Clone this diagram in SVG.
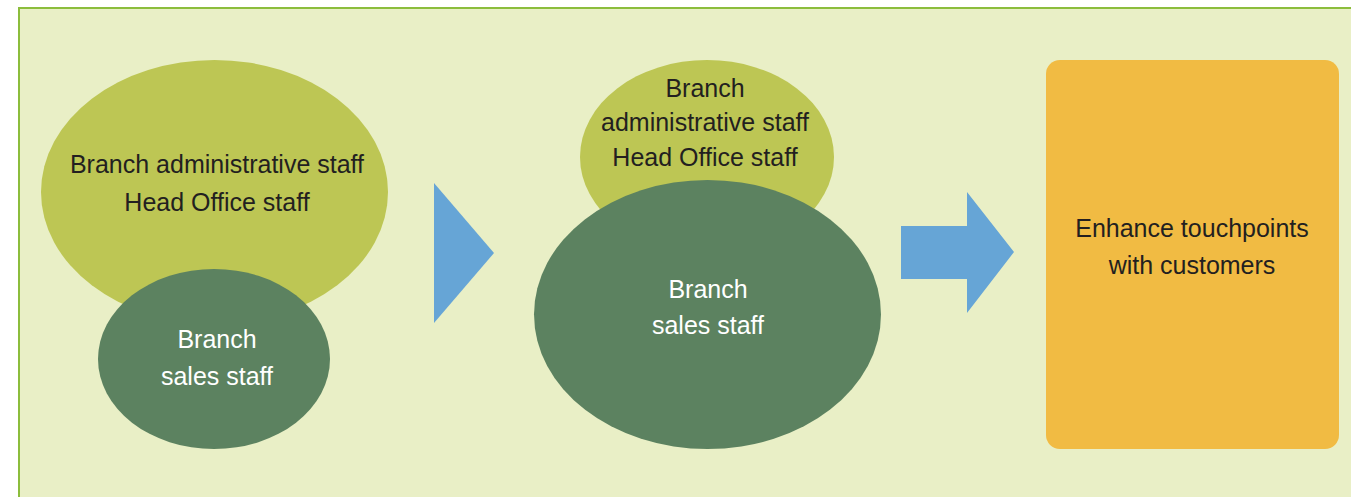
<svg xmlns="http://www.w3.org/2000/svg" width="1351" height="497" viewBox="0 0 1351 497">
  <style>
    .lbl { font-family: "Liberation Sans", Arial, sans-serif; font-size: 25px; text-anchor: middle; }
    .dark { fill: #231f20; }
    .light { fill: #ffffff; }
    .outer { fill: #bdc654; }
    .inner { fill: #5c8260; }
    .step { fill: #66a5d6; }
  </style>

  <!-- background panel -->
  <rect x="0" y="0" width="1351" height="497" fill="#ffffff"/>
  <rect x="19" y="8" width="1400" height="520" fill="#e9efc6" stroke="#8cbd3c" stroke-width="2"/>

  <!-- current state: separate staff groups -->
  <g id="before-support">
    <ellipse class="outer" cx="214.5" cy="192" rx="173.5" ry="132"/>
    <text class="lbl dark" x="217" y="173">Branch administrative staff</text>
    <text class="lbl dark" x="217" y="211">Head Office staff</text>
  </g>
  <g id="before-sales">
    <ellipse class="inner" cx="214" cy="359" rx="116" ry="90"/>
    <text class="lbl light" x="217" y="348">Branch</text>
    <text class="lbl light" x="217" y="385">sales staff</text>
  </g>

  <!-- future state: expanded sales staff -->
  <g id="after-support">
    <ellipse class="outer" cx="707" cy="157" rx="127" ry="97"/>
    <text class="lbl dark" x="705" y="97">Branch</text>
    <text class="lbl dark" x="705" y="131">administrative staff</text>
    <text class="lbl dark" x="705" y="166">Head Office staff</text>
  </g>
  <g id="after-sales">
    <ellipse class="inner" cx="707.5" cy="314.5" rx="173.5" ry="134.5"/>
    <text class="lbl light" x="708" y="298">Branch</text>
    <text class="lbl light" x="708" y="334">sales staff</text>
  </g>

  <!-- outcome -->
  <g id="outcome">
    <rect x="1046" y="60" width="293" height="389" rx="14" ry="14" fill="#f1bb43"/>
    <text class="lbl dark" x="1192" y="237">Enhance touchpoints</text>
    <text class="lbl dark" x="1192" y="274">with customers</text>
  </g>

  <!-- transition arrows -->
  <g id="connectors">
    <polygon class="step" points="434,183 494,253 434,323"/>
    <polygon class="step" points="901,226 967,226 967,192 1014,252 967,313 967,279 901,279"/>
  </g>
</svg>
